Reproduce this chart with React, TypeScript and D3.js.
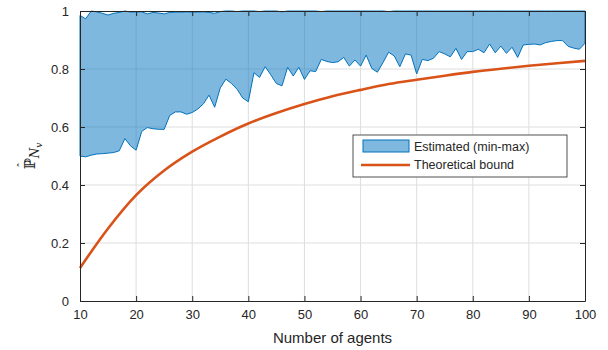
import React, { useEffect, useRef } from "react";
import * as d3 from "d3";

// number of agents, one sample per integer
const agents: number[] = d3.range(10, 101);

// estimated probability: min over runs
const estMin: number[] = [
  0.5, 0.497, 0.503, 0.507, 0.508, 0.51, 0.512, 0.518, 0.56, 0.535,
  0.52, 0.585, 0.598, 0.594, 0.592, 0.592, 0.64, 0.652, 0.652, 0.644,
  0.65, 0.662, 0.68, 0.71, 0.668, 0.735, 0.765, 0.75, 0.73, 0.7,
  0.687, 0.787, 0.771, 0.808, 0.78, 0.75, 0.742, 0.806, 0.776, 0.806,
  0.764, 0.794, 0.791, 0.833, 0.826, 0.822, 0.825, 0.84, 0.81, 0.831,
  0.81, 0.848, 0.802, 0.789, 0.822, 0.858, 0.845, 0.808, 0.852, 0.848,
  0.783, 0.833, 0.829, 0.837, 0.86, 0.852, 0.842, 0.871, 0.833, 0.86,
  0.86, 0.868, 0.856, 0.886, 0.856, 0.879, 0.854, 0.875, 0.84, 0.883,
  0.885, 0.886, 0.883, 0.891, 0.895, 0.898, 0.898, 0.878, 0.872, 0.868,
  0.889,
];

// estimated probability: max over runs
const estMax: number[] = [
  0.985, 0.973, 1.0, 0.997, 0.992, 0.986, 0.992, 0.995, 1.0, 0.996,
  0.997, 0.997, 0.99, 0.995, 0.993, 0.99, 0.995, 0.996, 0.996, 0.997,
  0.996, 0.996, 0.997, 0.995, 0.992, 0.998, 1.0, 1.0, 0.998, 1.0,
  1.0, 1.0, 0.998, 1.0, 1.0, 1.0, 0.997, 1.0, 1.0, 1.0,
  1.0, 1.0, 1.0, 0.998, 1.0, 1.0, 1.0, 1.0, 1.0, 1.0,
  1.0, 1.0, 1.0, 1.0, 1.0, 0.998, 1.0, 1.0, 1.0, 1.0,
  1.0, 1.0, 1.0, 1.0, 1.0, 1.0, 1.0, 1.0, 1.0, 1.0,
  1.0, 1.0, 1.0, 1.0, 1.0, 1.0, 1.0, 1.0, 1.0, 1.0,
  1.0, 1.0, 1.0, 1.0, 1.0, 1.0, 1.0, 1.0, 1.0, 1.0,
  1.0,
];

// theoretical bound, read every 5 agents
const boundX: number[] = [10, 15, 20, 25, 30, 35, 40, 45, 50, 55, 60, 65, 70, 75, 80, 85, 90, 95, 100];
const boundY: number[] = [
  0.114, 0.25, 0.365, 0.45, 0.515, 0.567, 0.612, 0.648, 0.679, 0.706,
  0.728, 0.748, 0.763, 0.777, 0.79, 0.801, 0.811, 0.82, 0.828,
];

const xTicks: number[] = [10, 20, 30, 40, 50, 60, 70, 80, 90, 100];
const yTicks: number[] = [0, 0.2, 0.4, 0.6, 0.8, 1];

const App = () => {
  const ref = useRef<SVGSVGElement>(null);

  useEffect(() => {
    const svg = d3.select(ref.current);
    svg.selectAll("*").remove();

    const W = 608, H = 350;
    const m = { top: 11, right: 23, bottom: 49, left: 80 };
    const w = W - m.left - m.right;
    const h = H - m.top - m.bottom;
    const font = "'Liberation Sans', Arial, Helvetica, sans-serif";
    const axisColor = "#262626";

    const x = d3.scaleLinear().domain([10, 100]).range([0, w]);
    const y = d3.scaleLinear().domain([0, 1]).range([h, 0]);

    const g = svg.append("g").attr("transform", `translate(${m.left},${m.top})`);

    // grid
    g.append("g").selectAll("line").data(xTicks.slice(1, -1)).join("line")
      .attr("x1", d => x(d)).attr("x2", d => x(d)).attr("y1", 0).attr("y2", h)
      .attr("stroke", "#dedede").attr("stroke-width", 1);
    g.append("g").selectAll("line").data(yTicks.slice(1, -1)).join("line")
      .attr("y1", d => y(d)).attr("y2", d => y(d)).attr("x1", 0).attr("x2", w)
      .attr("stroke", "#dedede").attr("stroke-width", 1);

    // min-max band
    const band = agents.map((a, i) => ({ a, lo: estMin[i], hi: estMax[i] }));
    const area = d3.area<{ a: number; lo: number; hi: number }>()
      .x(d => x(d.a)).y0(d => y(d.lo)).y1(d => y(d.hi));
    g.append("path").datum(band).attr("d", area)
      .attr("fill", "#0072BD").attr("fill-opacity", 0.5)
      .attr("stroke", "#0072BD").attr("stroke-width", 1).attr("stroke-linejoin", "round");

    // theoretical bound
    const bound = boundX.map((a, i) => [a, boundY[i]] as [number, number]);
    g.append("path").datum(bound)
      .attr("d", d3.line().x(d => x(d[0])).y(d => y(d[1])).curve(d3.curveMonotoneX))
      .attr("fill", "none").attr("stroke", "#D95319").attr("stroke-width", 2.6);

    // axes (box with inward ticks)
    const styleAxis = (sel: d3.Selection<SVGGElement, unknown, null, undefined>, showText: boolean) => {
      sel.select(".domain").attr("stroke", axisColor);
      sel.selectAll(".tick line").attr("stroke", axisColor);
      sel.selectAll("text").attr("fill", axisColor).style("font-family", font).style("font-size", "13px");
      if (!showText) sel.selectAll("text").remove();
    };
    const fmt = (d: d3.NumberValue) => `${+d}`;
    g.append("g").attr("transform", `translate(0,${h})`)
      .call(d3.axisBottom(x).tickValues(xTicks).tickSize(-5).tickPadding(9).tickFormat(fmt).tickSizeOuter(0))
      .call(s => styleAxis(s, true));
    g.append("g")
      .call(d3.axisTop(x).tickValues(xTicks).tickSize(-5).tickSizeOuter(0))
      .call(s => styleAxis(s, false));
    g.append("g")
      .call(d3.axisLeft(y).tickValues(yTicks).tickSize(-5).tickPadding(11).tickFormat(fmt).tickSizeOuter(0))
      .call(s => styleAxis(s, true));
    g.append("g").attr("transform", `translate(${w},0)`)
      .call(d3.axisRight(y).tickValues(yTicks).tickSize(-5).tickSizeOuter(0))
      .call(s => styleAxis(s, false));

    // x label
    svg.append("text").attr("x", m.left + w / 2).attr("y", 343)
      .attr("text-anchor", "middle").attr("fill", axisColor)
      .style("font-family", font).style("font-size", "15px").text("Number of agents");

    // y label: hat P_{N_v}
    const yl = svg.append("g").attr("transform", "translate(35,156) rotate(-90)");
    const t = yl.append("text").attr("text-anchor", "middle").attr("fill", axisColor)
      .style("font-family", "'DejaVu Serif', serif");
    t.append("tspan").style("font-size", "15px").text("ℙ");
    t.append("tspan").attr("dy", 4).style("font-size", "12px").style("font-style", "italic").text("N");
    t.append("tspan").attr("dy", 3).style("font-size", "9px").style("font-style", "italic").text("v");
    yl.append("text").attr("x", -9).attr("y", -9).attr("text-anchor", "middle").attr("fill", axisColor)
      .style("font-family", "'DejaVu Serif', serif").style("font-size", "11px").text("ˆ");

    // legend
    const lg = svg.append("g").attr("transform", "translate(353,135)");
    lg.append("rect").attr("width", 214).attr("height", 42)
      .attr("fill", "white").attr("stroke", axisColor).attr("stroke-width", 0.8);
    lg.append("rect").attr("x", 10).attr("y", 5).attr("width", 46).attr("height", 12)
      .attr("fill", "#0072BD").attr("fill-opacity", 0.5).attr("stroke", "#0072BD").attr("stroke-width", 1);
    lg.append("line").attr("x1", 8).attr("x2", 57).attr("y1", 30).attr("y2", 30)
      .attr("stroke", "#D95319").attr("stroke-width", 2.6);
    const items = ["Estimated (min-max)", "Theoretical bound"];
    lg.selectAll("text.item").data(items).join("text").attr("class", "item")
      .attr("x", 61).attr("y", (_, i) => 15.5 + i * 18)
      .attr("fill", axisColor).style("font-family", font).style("font-size", "12.5px")
      .text(d => d);
  }, []);

  return <svg ref={ref} width={608} height={350} style={{ position: "absolute", left: 0, top: 0 }} />;
};

export default App;
